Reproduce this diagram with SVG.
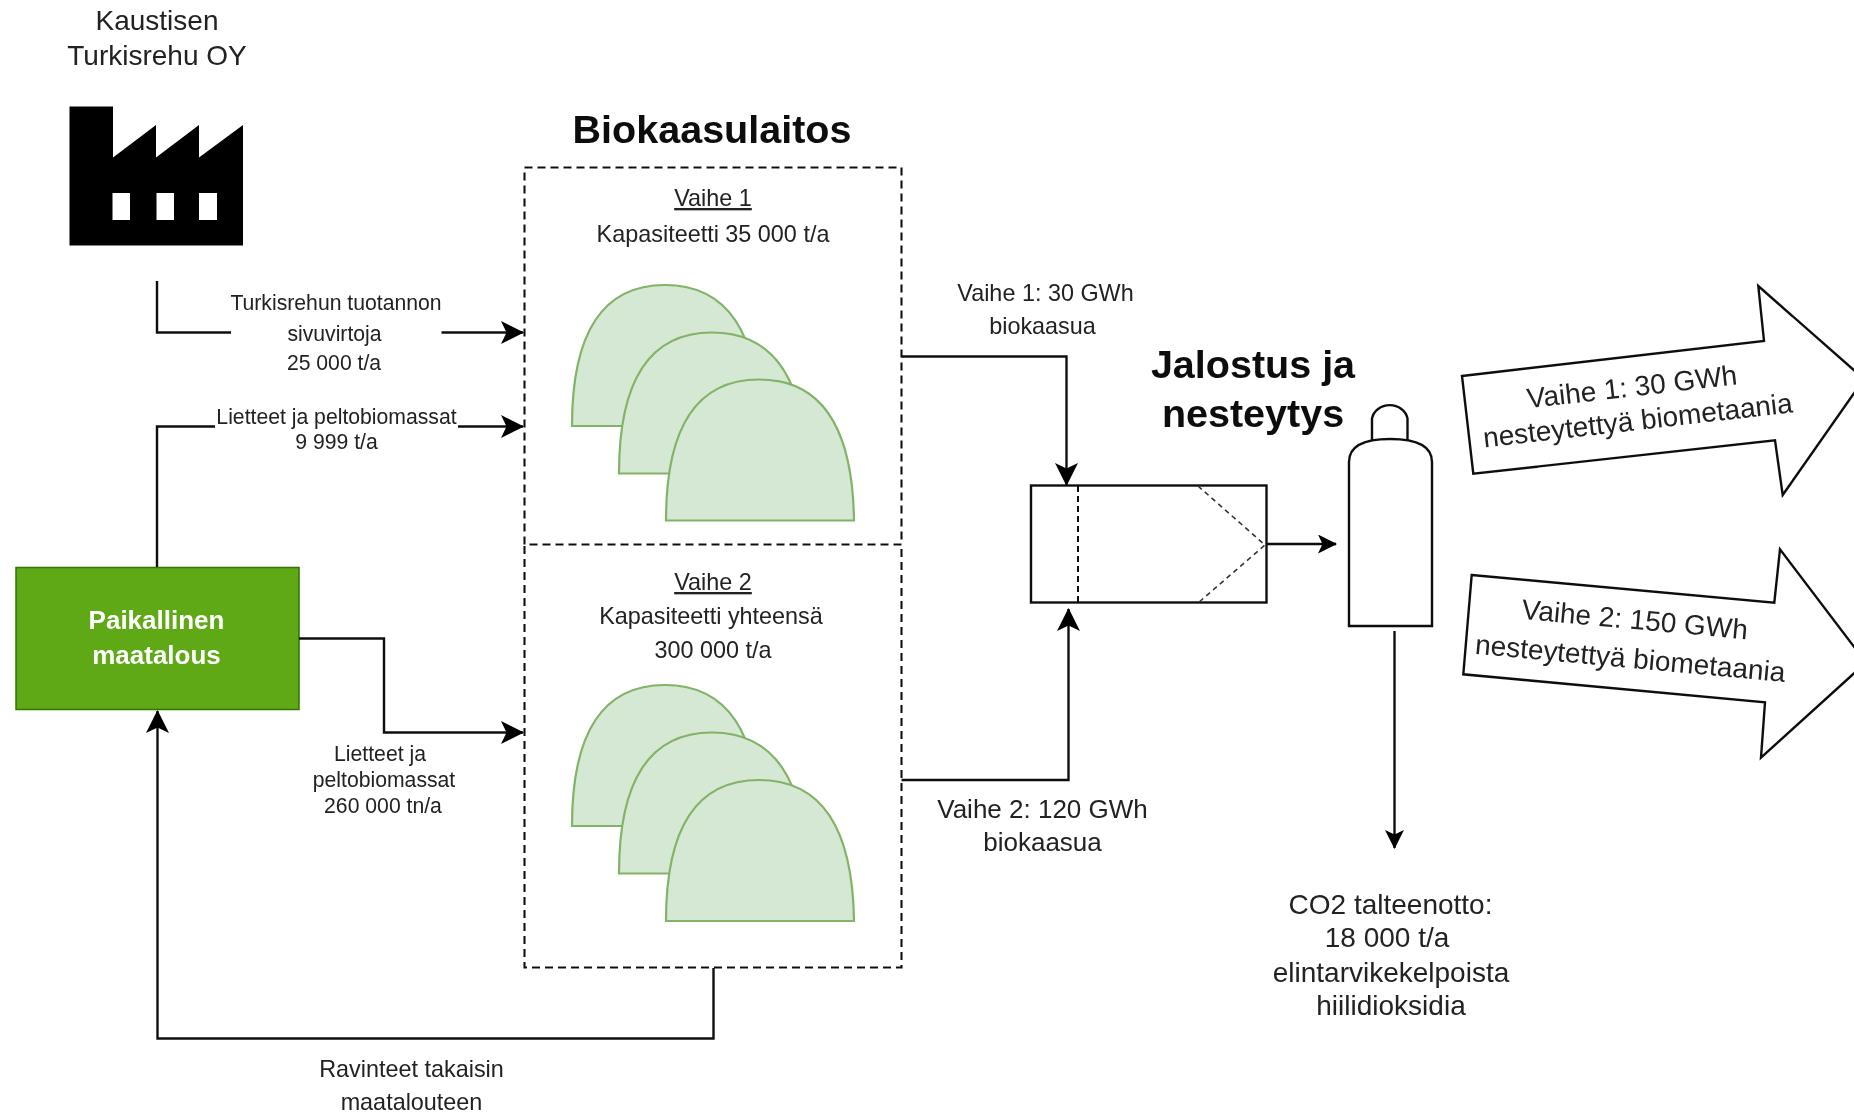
<svg xmlns="http://www.w3.org/2000/svg" width="1854" height="1113" viewBox="0 0 1854 1113">
<style>
text{font-family:"Liberation Sans",Arial,sans-serif;text-anchor:middle;fill:#222}
.s21{font-size:21.2px}.s23{font-size:23.4px}.s25{font-size:26px}.s27{font-size:28px}
.t{font-size:39.5px;font-weight:bold;fill:#111}
.f{fill:#fff;font-size:26px;font-weight:bold}
.u{text-decoration:underline}
.c{fill:none;stroke:#111;stroke-width:2.4}
.big{marker-end:url(#big)}.small{marker-end:url(#small)}
.box{fill:none;stroke:#111;stroke-width:2.1;stroke-dasharray:8 5}
.dome{fill:#d5e8d4;stroke:#82b366;stroke-width:2.2}
.shape{fill:#fff;stroke:#111;stroke-width:2.4}
</style>
<defs>
<filter id="soft" filterUnits="userSpaceOnUse" x="0" y="0" width="1854" height="1113"><feGaussianBlur stdDeviation="0.55"/></filter>
<marker id="big" markerUnits="userSpaceOnUse" viewBox="0 0 23 23" markerWidth="23" markerHeight="23" refX="22" refY="11.5" orient="auto"><path d="M23 11.5L0 0L5.5 11.5L0 23Z" fill="#000"/></marker>
<marker id="small" markerUnits="userSpaceOnUse" viewBox="0 0 19 19" markerWidth="19" markerHeight="19" refX="18" refY="9.5" orient="auto"><path d="M19 9.5L0 0L4.5 9.5L0 19Z" fill="#000"/></marker>
<path id="d" d="M0 141Q0 0 93 0Q186 0 188 141Z"/>
</defs>
<rect width="1854" height="1113" fill="#fff"/>
<g filter="url(#soft)">
<g id="factory">
<path d="M69.5 106.5H113V157.5L156 125V157.5L199 125V157.5L243 125V245.5H69.5Z" fill="#000"/>
<path d="M112.5 193H130V220H112.5ZM156.5 193H174V220H156.5ZM199 193H217V220H199Z" fill="#fff"/>
<text class="s27" x="157" y="30">Kaustisen</text>
<text class="s27" x="157" y="65">Turkisrehu OY</text>
</g>
<g id="farm">
<rect x="16" y="567.5" width="283" height="142" fill="#60a917" stroke="#2d7600" stroke-width="1.5"/>
<text class="f" x="156.5" y="629">Paikallinen</text>
<text class="f" x="156.5" y="664">maatalous</text>
</g>
<g id="plant-title"><text class="t" x="712" y="143">Biokaasulaitos</text></g>
<g id="phase1">
<rect class="box" x="524.5" y="167.5" width="377" height="377"/>
<text class="s23 u" x="713" y="206">Vaihe 1</text>
<text class="s23" x="713" y="242">Kapasiteetti 35 000 t/a</text>
<use href="#d" class="dome" x="572" y="285"/>
<use href="#d" class="dome" x="619" y="332.5"/>
<use href="#d" class="dome" x="666" y="379.5"/>
</g>
<g id="phase2">
<path class="box" d="M524.5 546V967.5H901.5V546"/>
<text class="s23 u" x="713" y="590">Vaihe 2</text>
<text class="s23" x="711" y="623.5">Kapasiteetti yhteensä</text>
<text class="s23" x="713" y="658">300 000 t/a</text>
<use href="#d" class="dome" x="572" y="685"/>
<use href="#d" class="dome" x="619" y="732.5"/>
<use href="#d" class="dome" x="666" y="780"/>
</g>
<g id="refining-title">
<text class="t" x="1253" y="378">Jalostus ja</text>
<text class="t" x="1253" y="427">nesteytys</text>
</g>
<g id="refinery">
<rect class="shape" x="1031" y="485.5" width="235.5" height="117"/>
<path d="M1078 486V603" fill="none" stroke="#111" stroke-width="2" stroke-dasharray="6 4"/>
<path d="M1198 486L1265 545L1198 603" fill="none" stroke="#333" stroke-width="1.6" stroke-dasharray="5 4"/>
</g>
<g id="tank">
<path class="shape" d="M1372 440V418.5A18 16 0 0 1 1407.5 418.5V440"/>
<path class="shape" d="M1349 626V462Q1349 439 1390 439Q1432 439 1432 462V626Z"/>
</g>
<g id="output1">
<path class="shape" d="M1462 376L1764 341L1758.3 286L1864 379L1782.7 495L1775 440.3L1473.3 473.7Z"/>
<g transform="translate(1636 405) rotate(-6.5)">
<text class="s27" x="-2" y="-9">Vaihe 1: 30 GWh</text>
<text class="s27" x="0" y="25">nesteytettyä biometaania</text>
</g>
</g>
<g id="output2">
<path class="shape" d="M1471.7 575L1774.3 602.7L1780 549.3L1866 662.5L1761 757.7L1765 702.3L1463.3 674.3Z"/>
<g transform="translate(1633 640) rotate(5.2)">
<text class="s27" x="0" y="-11">Vaihe 2: 150 GWh</text>
<text class="s27" x="-1" y="28">nesteytettyä biometaania</text>
</g>
</g>
<g id="connectors">
<path class="c" d="M157 281V332.5H231"/>
<path class="c big" d="M441.5 332.5H523"/>
<path class="c" d="M157 567V426.5H215"/>
<path class="c big" d="M458 426.5H523"/>
<path class="c big" d="M299 638.5H384V732.5H523"/>
<path class="c big" d="M713.5 968V1038.5H157.5V711"/>
<path class="c big" d="M901.5 356.5H1066.5V485"/>
<path class="c big" d="M901.5 780H1068.5V609"/>
<path class="c small" d="M1267 544H1336"/>
<path class="c small" d="M1394.5 631V848"/>
</g>
<g id="labels">
<text class="s21" x="336" y="310">Turkisrehun tuotannon</text>
<text class="s21" x="334.5" y="341">sivuvirtoja</text>
<text class="s21" x="334" y="370">25 000 t/a</text>
<text class="s21" x="336.5" y="423.5">Lietteet ja peltobiomassat</text>
<text class="s21" x="336.5" y="448.5">9 999 t/a</text>
<text class="s21" x="380" y="761">Lietteet ja</text>
<text class="s21" x="384" y="787">peltobiomassat</text>
<text class="s21" x="383" y="813">260 000 tn/a</text>
<text class="s23" x="411.5" y="1077">Ravinteet takaisin</text>
<text class="s23" x="411.5" y="1110">maatalouteen</text>
<text class="s23" x="1045.5" y="300.5">Vaihe 1: 30 GWh</text>
<text class="s23" x="1042.5" y="334">biokaasua</text>
<text class="s25" x="1042.5" y="818">Vaihe 2: 120 GWh</text>
<text class="s25" x="1042.5" y="851">biokaasua</text>
<text class="s27" x="1390.5" y="914">CO2 talteenotto:</text>
<text class="s27" x="1387" y="947">18 000 t/a</text>
<text class="s27" x="1391" y="982">elintarvikekelpoista</text>
<text class="s27" x="1391" y="1015">hiilidioksidia</text>
</g>
</g>
</svg>
